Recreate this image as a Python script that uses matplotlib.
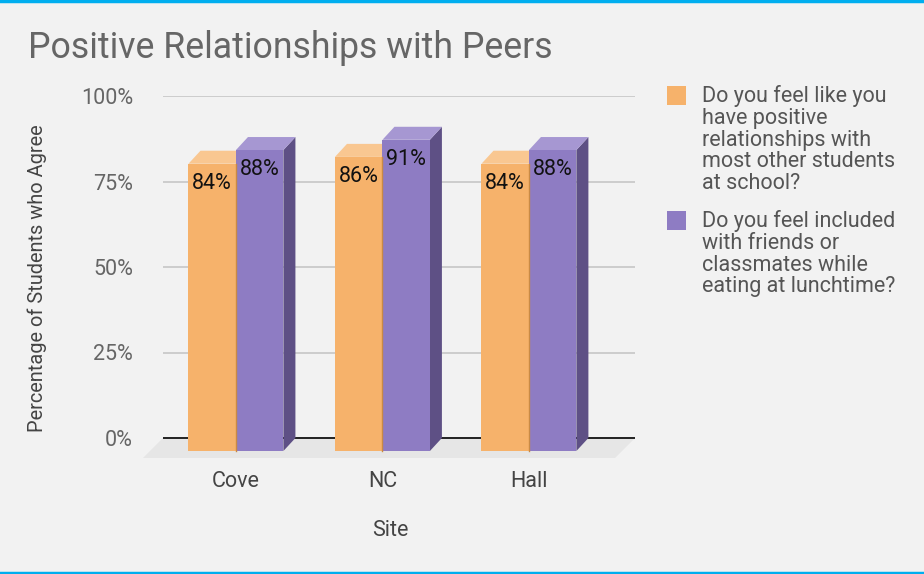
import matplotlib.pyplot as plt
import matplotlib as mpl
from matplotlib.patches import Polygon, Rectangle
from matplotlib.lines import Line2D

mpl.rcParams['font.family'] = ['Roboto', 'DejaVu Sans']

# data
sites = ['Cove', 'NC', 'Hall']
positive = [84, 86, 84]
included = [88, 91, 88]
series_names = ['Do you feel like you\nhave positive\nrelationships with\nmost other students\nat school?',
                'Do you feel included\nwith friends or\nclassmates while\neating at lunchtime?']
y_ticks = [0, 25, 50, 75, 100]
y_labels = ['0%', '25%', '50%', '75%', '100%']

W, H = 924, 574
bg = '#f2f2f2'
fig = plt.figure(figsize=(W / 100, H / 100), dpi=100, facecolor=bg)

def fx(px):
    return px / W

def fy(py):
    return 1 - py / H

# axes area: x 163..635 px, y 96 (100%) .. 460 px
y_px = 3.42  # pixels per percent
ybot = -(460 - 438) / y_px
ax = fig.add_axes([fx(163), fy(460), fx(635 - 163), (460 - 96) / H])
ax.set_facecolor('none')
ax.set_xlim(-0.498, 2.724)
ax.set_ylim(ybot, 100)
for s in ax.spines.values():
    s.set_visible(False)

# 3d offsets
bw = 0.324
dx = 12 / 146.5
dd = 13 / y_px

# floor
fl = 20 / y_px
ax.add_patch(Polygon([(-0.498, 0), (2.724, 0), (2.724 - fl * y_px / 146.5, -fl),
                      (-0.498 - fl * y_px / 146.5, -fl)], closed=True,
                     facecolor='#e6e6e6', edgecolor='none', zorder=1, clip_on=False))

# gridlines and baseline
for t in y_ticks[1:]:
    ax.axhline(t, color='#c6c6c6', lw=1.2, zorder=2)
ax.axhline(0, color='#222222', lw=1.4, zorder=2)

colors = [('#f6b26b', '#f9c791', '#c98a45'), ('#8e7cc3', '#a697d2', '#5e5085')]

def bar3d(x0, v, front, top, side):
    ax.add_patch(Polygon([(x0 + bw, -dd), (x0 + bw + dx, 0), (x0 + bw + dx, v - 0),
                          (x0 + bw, v - dd)], closed=True, facecolor=side,
                         edgecolor='none', zorder=3))
    ax.add_patch(Polygon([(x0, v - dd), (x0 + bw, v - dd), (x0 + bw + dx, v),
                          (x0 + dx, v)], closed=True, facecolor=top,
                         edgecolor='none', zorder=3))
    ax.add_patch(Rectangle((x0, -dd), bw, v, facecolor=front,
                           edgecolor='none', zorder=3))

for i in range(len(sites)):
    for j, vals in enumerate([positive, included]):
        x0 = i - bw + j * bw
        f, t, s = colors[j]
        bar3d(x0, vals[i], f, t, s)
        if j == 0:
            ax.plot([x0 + bw, x0 + bw], [-dd, vals[i] - dd], color=s, lw=1, zorder=3.5)
        ax.text(x0 + bw / 2, vals[i] - dd - 5.8, f'{vals[i]}%', ha='center', va='center',
                fontsize=15.5, color='#111111', zorder=5)

ax.set_yticks(y_ticks)
ax.set_yticklabels(y_labels, fontsize=15.5, color='#666666')
ax.set_xticks(range(len(sites)))
ax.set_xticklabels(sites, fontsize=15.5, color='#444444')
ax.tick_params(length=0)
ax.tick_params(axis='y', pad=(163 - 133) * 0.72)
ax.tick_params(axis='x', pad=8)

# title and axis labels
fig.text(fx(28), fy(48), 'Positive Relationships with Peers', fontsize=25.7,
         color='#666666', ha='left', va='center')
fig.text(fx(37), fy(278), 'Percentage of Students who Agree', fontsize=14.4,
         color='#444444', rotation=90, ha='center', va='center')
fig.text(fx(390), fy(531), 'Site', fontsize=15.5, color='#444444', ha='center', va='center')

# legend
leg_top = [86, 211]
for j in range(2):
    fig.add_artist(Rectangle((fx(667), fy(leg_top[j] + 19)), fx(19), 19 / H,
                             facecolor=colors[j][0], edgecolor='none',
                             transform=fig.transFigure))
    fig.text(fx(702), fy(leg_top[j] - 1), series_names[j], fontsize=15.5,
             color='#555555', ha='left', va='top', linespacing=1.05)

# borders
fig.add_artist(Line2D([0, 1], [fy(1), fy(1)], color='#00aeef', lw=2.5,
                      transform=fig.transFigure))
fig.add_artist(Line2D([0, 1], [fy(572.5), fy(572.5)], color='#00aeef', lw=2.5,
                      transform=fig.transFigure))

fig.savefig('out.png', dpi=100, facecolor=bg)
